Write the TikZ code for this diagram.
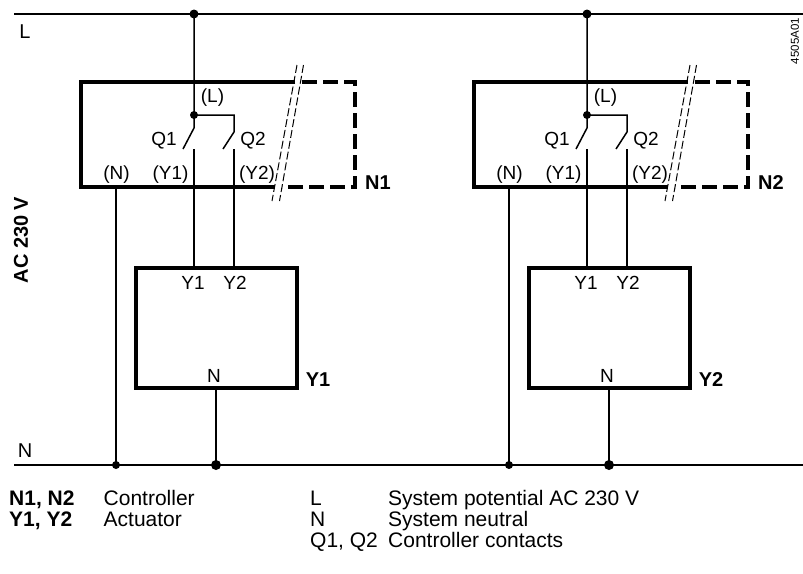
\documentclass[tikz,border=0pt]{standalone}
\usepackage{fontspec}
\setmainfont{Liberation Sans}
\begin{document}
\begin{tikzpicture}[x=1pt,y=-1pt,
    bus/.style={line width=2.5pt},
    wire/.style={line width=1.5pt},
    ctrlframe/.style={line width=3.5pt,line join=miter},
    dashframe/.style={line width=3.5pt,dash pattern=on 15pt off 6pt},
    breakmark/.style={line width=1pt,dash pattern=on 8pt off 3pt},
    dot/.style={circle,fill,inner sep=0pt,minimum size=#1},
    lbl/.style={inner sep=0pt,font=\fontsize{19}{19}\selectfont},
    tag/.style={inner sep=0pt,font=\fontsize{20}{20}\selectfont\bfseries},
    keytext/.style={inner sep=0pt,anchor=base west,font=\fontsize{21}{21}\selectfont}]
  %% Size of the whole sheet, margins included.
  \useasboundingbox (0,0) rectangle (803,573);

  %% Supply lines L and N.
  \coordinate (Lstart) at (14,14);
  \coordinate (Lend) at (803,14);
  \coordinate (Nstart) at (14,465);
  \coordinate (Nend) at (803,465);
  \draw[bus] (Lstart) -- (Lend);
  \draw[bus] (Nstart) -- (Nend);
  \node[lbl,font=\fontsize{20}{20}\selectfont] (Lname) at (25,32) {L};
  \node[lbl,font=\fontsize{20}{20}\selectfont] (Nname) at (25,451) {N};
  \node[tag,rotate=90] (supply) at (21,240) {AC 230 V};
  \node[lbl,font=\fontsize{11.5}{11.5}\selectfont,rotate=90] (drawno) at (795,41) {4505A01};

  %% One controller with its actuator per unit.
  \foreach \i/\dx in {1/0,2/393}{
    \begin{scope}[xshift=\dx]
      %% Junctions on L, inside the controller and on N.
      \node[dot=9pt] (Ljoin\i) at (194,14) {};
      \node[dot=8pt] (Cjoin\i) at (194,115) {};
      \node[dot=8pt] (Njoin\i) at (116,465) {};
      \node[dot=10pt] (Ajoin\i) at (216,465) {};

      %% Points of the contacts Q1 and Q2.
      \coordinate (Qonepiv\i) at (194,128);
      \coordinate (Qonetip\i) at (183,149);
      \coordinate (Qonecon\i) at (194,149);
      \coordinate (Qtwocor\i) at (234,115);
      \coordinate (Qtwopiv\i) at (234,132);
      \coordinate (Qtwotip\i) at (223,149);
      \coordinate (Qtwocon\i) at (234,149);

      %% Terminals of controller and actuator.
      \coordinate (Nout\i) at (116,187);
      \coordinate (Yonein\i) at (194,268);
      \coordinate (Ytwoin\i) at (234,268);
      \coordinate (Nact\i) at (216,388);

      %% The controller, cut away on the right.
      \draw[ctrlframe] (295,82) -- (81,82) -- (81,187) -- (275,187);
      \draw[dashframe] (302,82) -- (355,82) -- (355,187) -- (282,187);
      \draw[breakmark] (297,65) -- (272,201);
      \draw[breakmark] (303.5,65) -- (279.5,201);
      \node[lbl] (Lpin\i) at (212.5,98) {(L)};
      \node[lbl] (Qone\i) at (164,141) {Q1};
      \node[lbl] (Qtwo\i) at (253,141) {Q2};
      \node[lbl] (Npin\i) at (116.5,175) {(N)};
      \node[lbl] (Yonepin\i) at (170.5,175) {(Y1)};
      \node[lbl] (Ytwopin\i) at (257,175) {(Y2)};
      \node[tag] (ctrl\i) at (378,183) {N\i};

      %% The actuator.
      \draw[ctrlframe] (136,268) rectangle (297,388);
      \node[lbl] (Yoneterm\i) at (193,283) {Y1};
      \node[lbl] (Ytwoterm\i) at (235,283) {Y2};
      \node[lbl] (Nterm\i) at (214,376) {N};
      \node[tag] (act\i) at (318,380) {Y\i};

      %% Wiring.
      \draw[wire] (Ljoin\i.center) -- (Cjoin\i.center) -- (Qonepiv\i) -- (Qonetip\i);
      \draw[wire] (Cjoin\i.center) -- (Qtwocor\i) -- (Qtwopiv\i) -- (Qtwotip\i);
      \draw[wire] (Qonecon\i) -- (Yonein\i);
      \draw[wire] (Qtwocon\i) -- (Ytwoin\i);
      \draw[wire] (Nout\i) -- (Njoin\i.center);
      \draw[wire] (Nact\i) -- (Ajoin\i.center);
    \end{scope}
  }

  %% Key.
  \node[keytext,font=\fontsize{21}{21}\selectfont\bfseries] (keyN) at (9,505) {N1, N2};
  \node[keytext] (keyNtext) at (103.5,505) {Controller};
  \node[keytext,font=\fontsize{21}{21}\selectfont\bfseries] (keyY) at (9,526) {Y1, Y2};
  \node[keytext] (keyYtext) at (103.5,526) {Actuator};
  \node[keytext] (keyL) at (310,505) {L};
  \node[keytext] (keyLtext) at (388,505) {System potential AC 230 V};
  \node[keytext] (keyNN) at (310,526) {N};
  \node[keytext] (keyNNtext) at (388,526) {System neutral};
  \node[keytext] (keyQ) at (310,547) {Q1, Q2};
  \node[keytext] (keyQtext) at (388,547) {Controller contacts};
\end{tikzpicture}
\end{document}
